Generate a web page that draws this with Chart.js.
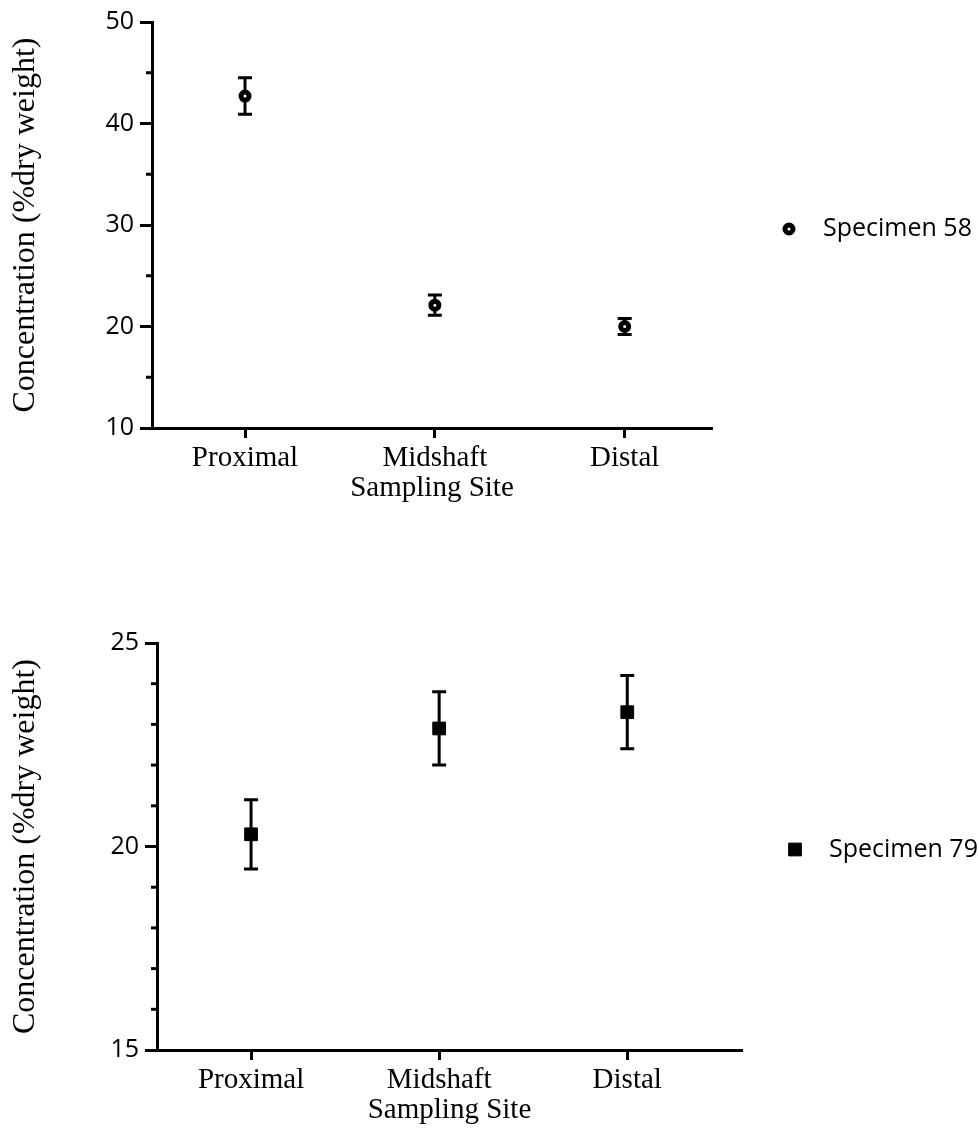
<!DOCTYPE html>
<html>
<head>
<meta charset="utf-8">
<script src="https://cdn.jsdelivr.net/npm/chart.js@4.4.0/dist/chart.umd.min.js"></script>
<style>
body { margin: 0; background: #fff; width: 979px; height: 1144px; position: relative; overflow: hidden; }
.box { position: absolute; left: 0; width: 979px; }
</style>
</head>
<body>
<div class="box" style="top:0;height:520px"><canvas id="chart58"></canvas></div>
<div class="box" style="top:600px;height:544px"><canvas id="chart79"></canvas></div>
<script>
const sites = ["Proximal", "Midshaft", "Distal"];

// specimen 58, mean and +/- error
const mean58 = [42.7, 22.1, 20.0];
const err58 = [1.8, 1.0, 0.8];
const ticks58 = [10, 20, 30, 40, 50];
const minor58 = [15, 25, 35, 45];

// specimen 79
const mean79 = [20.3, 22.9, 23.3];
const err79 = [0.85, 0.9, 0.9];
const ticks79 = [15, 20, 25];
const minor79 = [16, 17, 18, 19, 21, 22, 23, 24];

const serif = "'Liberation Serif', 'Times New Roman', serif";
const sans = "'Open Sans', 'DejaVu Sans', sans-serif";

// error bars, minor y ticks and the side legend
const extras = {
  id: 'extras',
  beforeDatasetsDraw(chart, args, opts) {
    const ctx = chart.ctx, xs = chart.scales.x, ys = chart.scales.y;
    ctx.save();
    ctx.strokeStyle = '#000';
    ctx.lineWidth = 3;
    opts.means.forEach((m, i) => {
      const px = xs.getPixelForValue(i);
      const top = ys.getPixelForValue(m + opts.errs[i]);
      const bot = ys.getPixelForValue(m - opts.errs[i]);
      ctx.beginPath();
      ctx.moveTo(px, top); ctx.lineTo(px, bot);
      ctx.moveTo(px - 7, top); ctx.lineTo(px + 7, top);
      ctx.moveTo(px - 7, bot); ctx.lineTo(px + 7, bot);
      ctx.stroke();
    });
    ctx.restore();
  },
  afterDraw(chart, args, opts) {
    const ctx = chart.ctx, ys = chart.scales.y;
    const left = chart.chartArea.left;
    ctx.save();
    ctx.strokeStyle = '#000';
    ctx.lineWidth = 3;
    opts.minors.forEach(v => {
      const py = ys.getPixelForValue(v);
      ctx.beginPath();
      ctx.moveTo(left - 6, py); ctx.lineTo(left, py);
      ctx.stroke();
    });
    // legend
    const ds = chart.data.datasets[0];
    const ly = (chart.chartArea.top + chart.chartArea.bottom) / 2 + opts.legendDy;
    const lx = chart.chartArea.right + opts.legendDx;
    ctx.fillStyle = ds.backgroundColor;
    ctx.strokeStyle = ds.borderColor;
    ctx.lineWidth = ds.borderWidth;
    Chart.helpers.drawPoint(ctx, { pointStyle: ds.pointStyle, radius: ds.pointRadius, borderWidth: ds.borderWidth, rotation: 0 }, lx, ly);
    ctx.fillStyle = '#000';
    ctx.font = '25px ' + sans;
    ctx.textBaseline = 'middle';
    ctx.fillText(ds.label, lx + 34, ly);
    ctx.restore();
  }
};

function makeChart(id, cfg) {
  new Chart(document.getElementById(id), {
    type: 'scatter',
    data: {
      datasets: [{
        label: cfg.label,
        data: cfg.means.map((v, i) => ({ x: i, y: v })),
        pointStyle: cfg.pointStyle,
        pointRadius: cfg.radius,
        borderWidth: cfg.borderWidth,
        backgroundColor: cfg.fill,
        borderColor: '#000'
      }]
    },
    options: {
      responsive: true,
      maintainAspectRatio: false,
      animation: false,
      layout: { padding: cfg.padding },
      plugins: {
        legend: { display: false },
        tooltip: { enabled: false },
        extras: { means: cfg.means, errs: cfg.errs, minors: cfg.minors, legendDx: cfg.legendDx, legendDy: cfg.legendDy }
      },
      scales: {
        x: {
          type: 'linear',
          min: cfg.xMin,
          max: cfg.xMax,
          afterBuildTicks: s => { s.ticks = sites.map((c, i) => ({ value: i })); },
          afterFit: s => { s.height = cfg.xHeight; },
          border: { color: '#000', width: 3 },
          grid: { drawOnChartArea: false, tickLength: 10, tickWidth: 3, tickColor: '#000' },
          ticks: { color: '#000', font: { family: serif, size: 29 }, padding: 3, callback: v => sites[v] },
          title: { display: true, text: 'Sampling Site', color: '#000', font: { family: serif, size: 29 }, padding: { top: 0, bottom: 2 } }
        },
        y: {
          min: cfg.yMin,
          max: cfg.yMax,
          afterBuildTicks: s => { s.ticks = cfg.majors.map(v => ({ value: v })); },
          afterFit: s => { s.width = cfg.yWidth; },
          border: { color: '#000', width: 3 },
          grid: { drawOnChartArea: false, tickLength: 12, tickWidth: 3, tickColor: '#000' },
          ticks: { color: '#000', font: { family: sans, size: 25 }, padding: 6 },
          title: { display: true, text: 'Concentration (%dry weight)', color: '#000', font: { family: serif, size: 32 }, padding: { top: 6 } }
        }
      }
    },
    plugins: [extras]
  });
}

makeChart('chart58', {
  label: 'Specimen 58', means: mean58, errs: err58, majors: ticks58, minors: minor58,
  yMin: 10, yMax: 50, xMin: -0.49, xMax: 2.46,
  pointStyle: 'circle', radius: 4, borderWidth: 5, fill: '#fff',
  yWidth: 152, xHeight: 80, padding: { top: 22, right: 267, bottom: 12, left: 0 },
  legendDx: 77, legendDy: 4
});

makeChart('chart79', {
  label: 'Specimen 79', means: mean79, errs: err79, majors: ticks79, minors: minor79,
  yMin: 15, yMax: 25, xMin: -0.5, xMax: 2.61,
  pointStyle: 'rect', radius: 9, borderWidth: 1, fill: '#000',
  yWidth: 157, xHeight: 80, padding: { top: 43, right: 237, bottom: 14, left: 0 },
  legendDx: 53, legendDy: 3
});
</script>
</body>
</html>
